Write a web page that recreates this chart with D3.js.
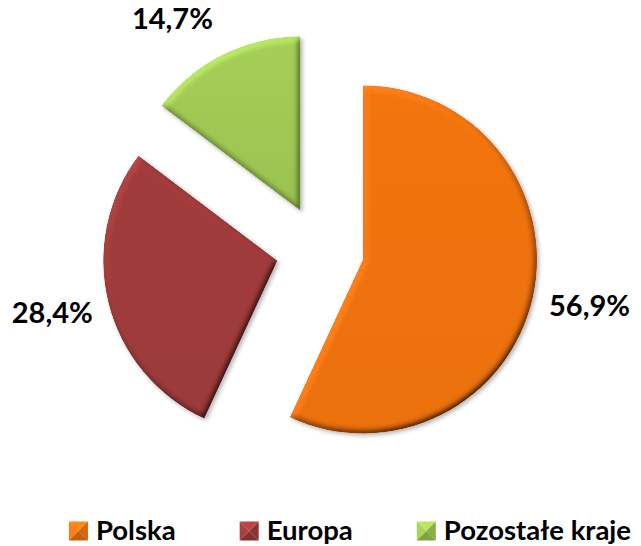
<!DOCTYPE html>
<html>
<head>
<meta charset="utf-8">
<script src="https://cdn.jsdelivr.net/npm/d3@7"></script>
<style>
  html, body { margin:0; padding:0; background:#fff; }
  svg { display:block; font-family: Lato, "Open Sans", sans-serif; }
</style>
</head>
<body>
<svg id="chart" width="641" height="546"></svg>
<script>
// data
const categories = ['Polska', 'Europa', 'Pozostałe kraje'];
const values = [56.9, 28.4, 14.7];
const valueLabels = ['56,9%', '28,4%', '14,7%'];
const colors = ['#EF7311', '#9F3B3B', '#9DC552'];

const W = 641, H = 546;
const cx = 320, cy = 250, radius = 174, explode = 44;

const svg = d3.select('#chart');
const defs = svg.append('defs');

// bevel: lighting on blurred alpha, multiplied into the fill
const bevel = defs.append('filter').attr('id', 'bevel')
  .attr('x', '-10%').attr('y', '-10%').attr('width', '125%').attr('height', '125%');
bevel.append('feGaussianBlur').attr('in', 'SourceAlpha').attr('stdDeviation', 3.2).attr('result', 'blur');
bevel.append('feDiffuseLighting').attr('in', 'blur').attr('surfaceScale', 4)
  .attr('diffuseConstant', 1).attr('lighting-color', '#fff').attr('result', 'light')
  .append('feDistantLight').attr('azimuth', 235).attr('elevation', 50);
bevel.append('feComposite').attr('in', 'SourceGraphic').attr('in2', 'light')
  .attr('operator', 'arithmetic').attr('k1', 1.3).attr('k2', 0).attr('k3', 0).attr('k4', 0)
  .attr('result', 'lit');
bevel.append('feComposite').attr('in', 'lit').attr('in2', 'SourceAlpha').attr('operator', 'in').attr('result', 'litClip');
bevel.append('feGaussianBlur').attr('in', 'SourceAlpha').attr('stdDeviation', 2).attr('result', 'sblur');
bevel.append('feOffset').attr('in', 'sblur').attr('dx', 2).attr('dy', 2).attr('result', 'soff');
bevel.append('feComponentTransfer').attr('in', 'soff').attr('result', 'shadow')
  .append('feFuncA').attr('type', 'linear').attr('slope', 0.3);
const merge = bevel.append('feMerge');
merge.append('feMergeNode').attr('in', 'shadow');
merge.append('feMergeNode').attr('in', 'litClip');

// slight vertical shading for each slice
colors.forEach((c, i) => {
  const g = defs.append('linearGradient').attr('id', 'grad' + i)
    .attr('x1', 0).attr('y1', 0).attr('x2', 0).attr('y2', 1);
  g.append('stop').attr('offset', '0%').attr('stop-color', d3.color(c).brighter(i == 2 ? 0.15 : 0.05));
  g.append('stop').attr('offset', '100%').attr('stop-color', d3.color(c).darker(0.05));
});

const pie = d3.pie().sort(null).value(d => d)(values);
const arc = d3.arc().innerRadius(0).outerRadius(radius);
const labelR = radius + 58;

const g = svg.append('g').attr('transform', `translate(${cx},${cy})`);

pie.forEach((p, i) => {
  const mid = (p.startAngle + p.endAngle) / 2;
  const ox = Math.sin(mid) * explode, oy = -Math.cos(mid) * explode;
  g.append('path')
    .attr('d', arc(p))
    .attr('transform', `translate(${ox},${oy})`)
    .attr('fill', `url(#grad${i})`)
    .attr('filter', 'url(#bevel)');

  let lx = ox + Math.sin(mid) * labelR;
  let ly = oy - Math.cos(mid) * labelR;
  // keep the label inside the chart area (pushed sideways like Excel does)
  const minY = 22 - cy;
  if (ly < minY) { lx = lx * 1.2; ly = minY; }
  g.append('text')
    .attr('x', lx).attr('y', ly - 5)
    .attr('text-anchor', 'middle')
    .attr('dominant-baseline', 'central')
    .attr('font-size', 29).attr('font-weight', 'bold')
    .attr('fill', '#000')
    .text(valueLabels[i]);
});

// legend
const legend = svg.append('g');
const box = 19, pad = 8, gap = 64, legY = 531;
let x = 0;
categories.forEach((name, i) => {
  const it = legend.append('g');
  const t = it.append('text')
    .attr('x', box + pad).attr('y', -2)
    .attr('dominant-baseline', 'central')
    .attr('font-size', 27.5).attr('font-weight', 'bold')
    .text(name);
  const w = t.node().getComputedTextLength();
  const c = d3.color(colors[i]);
  const h = box / 2;
  // pyramid-looking marker: four triangles meeting in the middle
  const faces = [
    [[0, -h], [box, -h], [h, 0], c.brighter(0.45)],
    [[0, -h], [0, h], [h, 0], c.brighter(0.2)],
    [[box, -h], [box, h], [h, 0], c.darker(0.35)],
    [[0, h], [box, h], [h, 0], c.darker(0.55)]
  ];
  faces.forEach(f => {
    it.append('path')
      .attr('d', `M${f[0][0]},${f[0][1]}L${f[1][0]},${f[1][1]}L${f[2][0]},${f[2][1]}Z`)
      .attr('fill', f[3]);
  });
  it.attr('transform', `translate(${x},${legY})`);
  x += box + pad + w + gap;
});
const totalW = x - gap;
legend.attr('transform', `translate(${350 - totalW / 2},0)`);
</script>
</body>
</html>
